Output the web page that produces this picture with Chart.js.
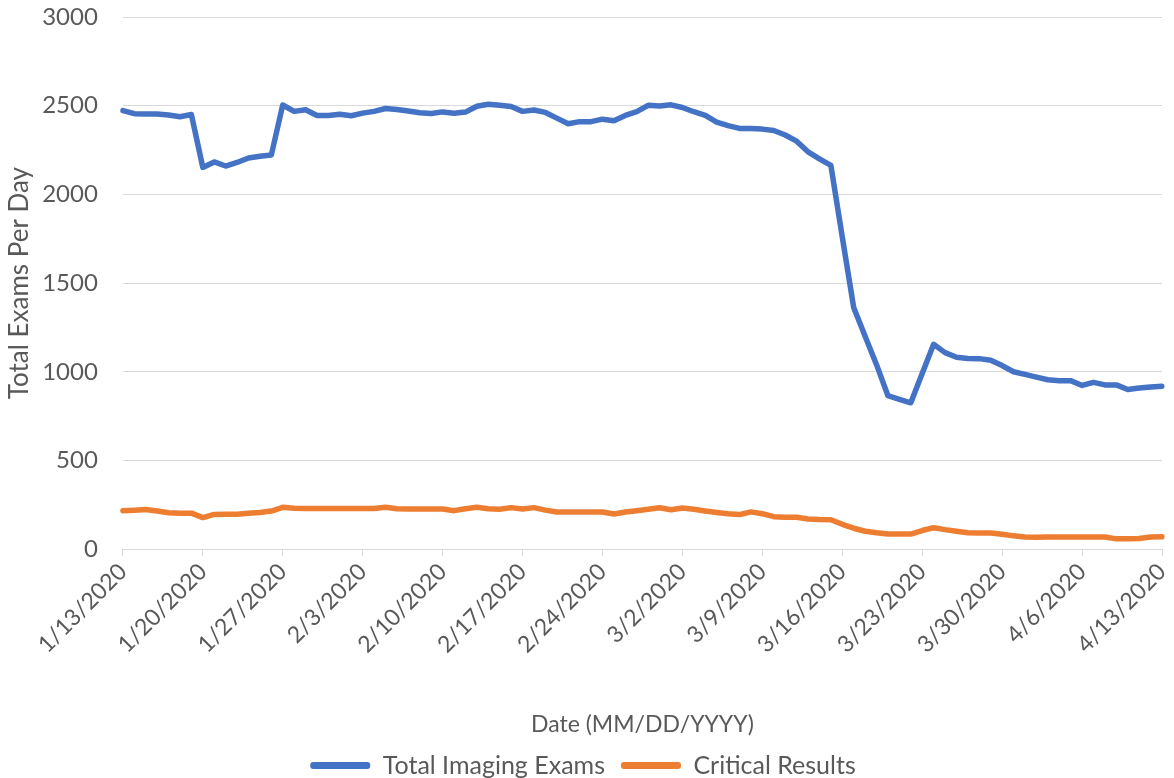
<!DOCTYPE html>
<html>
<head>
<meta charset="utf-8">
<script src="https://cdn.jsdelivr.net/npm/chart.js@4"></script>
<style>
  html, body { margin: 0; padding: 0; background: #fff; }
  #wrap { width: 1174px; height: 778px; }
</style>
</head>
<body>
<div id="wrap"><canvas id="myChart"></canvas></div>
<script>
// dates, one per day
var dates = [
  "1/13/2020","1/14/2020","1/15/2020","1/16/2020","1/17/2020","1/18/2020","1/19/2020",
  "1/20/2020","1/21/2020","1/22/2020","1/23/2020","1/24/2020","1/25/2020","1/26/2020",
  "1/27/2020","1/28/2020","1/29/2020","1/30/2020","1/31/2020","2/1/2020","2/2/2020",
  "2/3/2020","2/4/2020","2/5/2020","2/6/2020","2/7/2020","2/8/2020","2/9/2020",
  "2/10/2020","2/11/2020","2/12/2020","2/13/2020","2/14/2020","2/15/2020","2/16/2020",
  "2/17/2020","2/18/2020","2/19/2020","2/20/2020","2/21/2020","2/22/2020","2/23/2020",
  "2/24/2020","2/25/2020","2/26/2020","2/27/2020","2/28/2020","2/29/2020","3/1/2020",
  "3/2/2020","3/3/2020","3/4/2020","3/5/2020","3/6/2020","3/7/2020","3/8/2020",
  "3/9/2020","3/10/2020","3/11/2020","3/12/2020","3/13/2020","3/14/2020","3/15/2020",
  "3/16/2020","3/17/2020","3/18/2020","3/19/2020","3/20/2020","3/21/2020","3/22/2020",
  "3/23/2020","3/24/2020","3/25/2020","3/26/2020","3/27/2020","3/28/2020","3/29/2020",
  "3/30/2020","3/31/2020","4/1/2020","4/2/2020","4/3/2020","4/4/2020","4/5/2020",
  "4/6/2020","4/7/2020","4/8/2020","4/9/2020","4/10/2020","4/11/2020","4/12/2020",
  "4/13/2020"
];

var totalExams = [
  2472, 2455, 2453, 2453, 2448, 2438, 2450,
  2152, 2183, 2160, 2180, 2205, 2215, 2222,
  2504, 2468, 2477, 2445, 2445, 2452, 2443,
  2458, 2468, 2484, 2478, 2470, 2460, 2456,
  2465, 2458, 2464, 2497, 2508, 2502, 2495,
  2468, 2476, 2462, 2430, 2398, 2410, 2410,
  2424, 2415, 2445, 2466, 2502, 2498, 2505,
  2490, 2466, 2446, 2408, 2388, 2372, 2372,
  2368, 2360, 2335, 2300, 2240, 2200, 2164,
  1760, 1362, 1200, 1040, 865, 845, 825,
  990, 1155, 1108, 1082, 1075, 1074, 1065,
  1035, 1000, 985, 970, 955, 950, 950,
  923, 940, 926, 926, 900, 908, 914,
  918
];

var criticalResults = [
  217, 220, 223, 215, 205, 203, 203,
  178, 196, 197, 197, 202, 207, 215,
  236, 230, 229, 229, 229, 229, 229,
  229, 229, 236, 228, 227, 227, 227,
  226, 217, 228, 236, 228, 225, 234,
  226, 234, 220, 209, 209, 209, 209,
  209, 198, 209, 217, 225, 233, 222,
  232, 225, 215, 207, 200, 195, 210,
  200, 183, 180, 180, 170, 167, 166,
  140, 118, 101, 92, 85, 85, 85,
  105, 121, 110, 101, 92, 91, 91,
  84, 75, 68, 67, 68, 68, 68,
  68, 68, 68, 58, 58, 60, 68,
  70
];

var grey = "#595959";
var gridGrey = "#d9d9d9";
var fontName = "Lato";

var ctx = document.getElementById("myChart");
var myChart = new Chart(ctx, {
  type: "line",
  data: {
    labels: dates,
    datasets: [
      {
        label: "Total Imaging Exams",
        data: totalExams,
        borderColor: "#4472C4",
        backgroundColor: "#4472C4",
        borderWidth: 5.5,
        pointRadius: 0,
        tension: 0,
        borderCapStyle: "round",
        borderJoinStyle: "round",
      },
      {
        label: "Critical Results",
        data: criticalResults,
        borderColor: "#ED7D31",
        backgroundColor: "#ED7D31",
        borderWidth: 5.5,
        pointRadius: 0,
        tension: 0,
        borderCapStyle: "round",
        borderJoinStyle: "round",
      },
    ],
  },
  options: {
    responsive: true,
    maintainAspectRatio: false,
    animation: false,
    devicePixelRatio: 1,
    layout: { padding: { left: 4, right: 12, top: 0, bottom: -10 } },
    scales: {
      x: {
        afterBuildTicks: function (axis) {
          // one label per week
          axis.ticks = axis.ticks.filter(function (t) { return t.value % 7 === 0; });
        },
        afterFit: function (axis) {
          // let the rotated labels hang outside the plot area
          axis.paddingLeft = 0;
          axis.paddingRight = 0;
        },
        ticks: {
          autoSkip: false,
          minRotation: 45,
          maxRotation: 45,
          color: grey,
          font: { family: fontName, size: 23 },
          padding: 2,
        },
        grid: { drawOnChartArea: false, tickLength: 7, color: gridGrey },
        border: { color: gridGrey },
        title: {
          display: true,
          text: "Date (MM/DD/YYYY)",
          color: grey,
          font: { family: fontName, size: 23 },
          padding: { top: 50, bottom: -1 },
        },
      },
      y: {
        min: 0,
        max: 3000,
        afterFit: function (axis) {
          axis.paddingTop = 17;
          // chart.js counts the tick padding twice
          axis.width -= axis.options.ticks.padding;
        },
        ticks: {
          stepSize: 500,
          color: grey,
          font: { family: fontName, size: 24 },
          padding: 25,
          callback: function (v) { return String(v); },
        },
        grid: { color: gridGrey, drawTicks: false },
        border: { display: false },
        title: {
          display: true,
          text: "Total Exams Per Day",
          color: grey,
          font: { family: fontName, size: 26 },
          padding: { top: 0, bottom: 7 },
        },
      },
    },
    plugins: {
      legend: {
        position: "bottom",
        labels: {
          color: grey,
          font: { family: fontName, size: 25 },
          boxWidth: 60,
          boxHeight: 7,
          padding: 16,
          generateLabels: function (chart) {
            return Chart.defaults.plugins.legend.labels.generateLabels(chart).map(function (l) {
              l.lineWidth = 0;
              l.borderRadius = 3;
              return l;
            });
          },
        },
      },
      tooltip: { enabled: false },
    },
  },
});
</script>
</body>
</html>
